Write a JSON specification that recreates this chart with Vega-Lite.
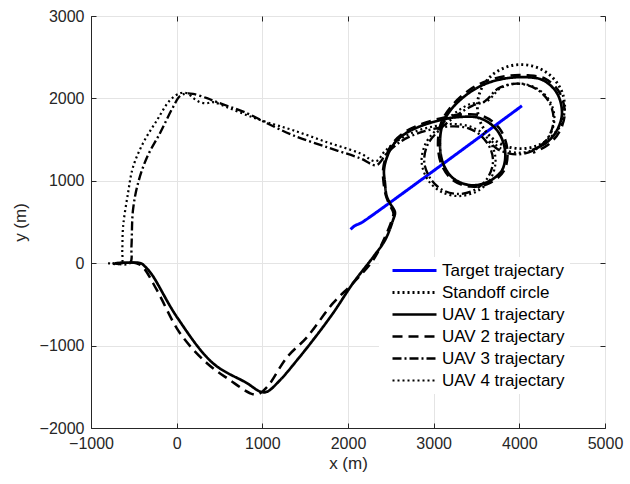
{
"$schema": "https://vega.github.io/schema/vega-lite/v6.json",
"autosize": "none",
"width": 514, "height": 412,
"padding": {"left": 91, "top": 16, "right": 25, "bottom": 56},
"background": "white",
"config": {
  "font": "Liberation Sans",
  "view": {"stroke": "#262626", "strokeWidth": 1},
  "axis": {"labelFont": "Liberation Sans", "labelFontSize": 16, "labelColor": "#262626", "labelFlush": false, "labelOverlap": false, "titleFont": "Liberation Sans", "titleFontSize": 17, "titleFontWeight": "normal", "titleColor": "#262626", "domainColor": "#262626", "tickColor": "#262626", "tickSize": -5, "gridColor": "#e4e4e4", "gridWidth": 1, "domainWidth": 1}
},
"data": {"values": [
{"s":"T","o":1,"x":2030,"y":410},{"s":"T","o":2,"x":2080,"y":455},{"s":"T","o":3,"x":2130,"y":478},{"s":"T","o":4,"x":2170,"y":500},{"s":"T","o":5,"x":4030,"y":1910},
{"s":"S","o":1,"x":4530,"y":1900},{"s":"S","o":2,"x":4513,"y":2032},{"s":"S","o":3,"x":4462,"y":2155},{"s":"S","o":4,"x":4381,"y":2261},{"s":"S","o":5,"x":4275,"y":2342},{"s":"S","o":6,"x":4152,"y":2393},{"s":"S","o":7,"x":4020,"y":2410},{"s":"S","o":8,"x":3888,"y":2393},{"s":"S","o":9,"x":3765,"y":2342},{"s":"S","o":10,"x":3659,"y":2261},{"s":"S","o":11,"x":3578,"y":2155},{"s":"S","o":12,"x":3527,"y":2032},{"s":"S","o":13,"x":3510,"y":1900},{"s":"S","o":14,"x":3527,"y":1768},{"s":"S","o":15,"x":3578,"y":1645},{"s":"S","o":16,"x":3659,"y":1539},{"s":"S","o":17,"x":3765,"y":1458},{"s":"S","o":18,"x":3888,"y":1407},{"s":"S","o":19,"x":4020,"y":1390},{"s":"S","o":20,"x":4152,"y":1407},{"s":"S","o":21,"x":4275,"y":1458},{"s":"S","o":22,"x":4381,"y":1539},{"s":"S","o":23,"x":4462,"y":1645},{"s":"S","o":24,"x":4513,"y":1768},{"s":"S","o":25,"x":4530,"y":1900},
{"s":"U1","o":1,"x":-700,"y":0},{"s":"U1","o":2,"x":-420,"y":0},{"s":"U1","o":3,"x":-370,"y":-40},{"s":"U1","o":4,"x":-288,"y":-140},{"s":"U1","o":5,"x":4,"y":-655},{"s":"U1","o":6,"x":424,"y":-1214},{"s":"U1","o":7,"x":821,"y":-1456},{"s":"U1","o":8,"x":980,"y":-1560},{"s":"U1","o":9,"x":1054,"y":-1560},{"s":"U1","o":10,"x":1206,"y":-1420},{"s":"U1","o":11,"x":1405,"y":-1177},{"s":"U1","o":12,"x":1591,"y":-934},{"s":"U1","o":13,"x":1825,"y":-607},{"s":"U1","o":14,"x":2058,"y":-243},{"s":"U1","o":15,"x":2292,"y":73},{"s":"U1","o":16,"x":2432,"y":279},{"s":"U1","o":17,"x":2525,"y":522},{"s":"U1","o":18,"x":2548,"y":619},{"s":"U1","o":19,"x":2490,"y":728},{"s":"U1","o":20,"x":2450,"y":820},{"s":"U1","o":21,"x":2432,"y":971},{"s":"U1","o":22,"x":2420,"y":1129},{"s":"U1","o":23,"x":2455,"y":1286},{"s":"U1","o":24,"x":2525,"y":1432},{"s":"U1","o":25,"x":2650,"y":1560},{"s":"U1","o":26,"x":2840,"y":1660},{"s":"U1","o":27,"x":3074,"y":1735},{"s":"U1","o":28,"x":3272,"y":1772},{"s":"U1","o":29,"x":3541,"y":1760},{"s":"U1","o":30,"x":3739,"y":1614},{"s":"U1","o":31,"x":3833,"y":1371},{"s":"U1","o":32,"x":3798,"y":1129},{"s":"U1","o":33,"x":3623,"y":983},{"s":"U1","o":34,"x":3424,"y":947},{"s":"U1","o":35,"x":3226,"y":1032},{"s":"U1","o":36,"x":3109,"y":1214},{"s":"U1","o":37,"x":3074,"y":1456},{"s":"U1","o":38,"x":3109,"y":1699},{"s":"U1","o":39,"x":3226,"y":1893},{"s":"U1","o":40,"x":3424,"y":2075},{"s":"U1","o":41,"x":3623,"y":2184},{"s":"U1","o":42,"x":3856,"y":2245},{"s":"U1","o":43,"x":4089,"y":2257},{"s":"U1","o":44,"x":4276,"y":2221},{"s":"U1","o":45,"x":4440,"y":2063},{"s":"U1","o":46,"x":4498,"y":1820},{"s":"U1","o":47,"x":4440,"y":1614},{"s":"U1","o":48,"x":4323,"y":1468},{"s":"U1","o":49,"x":4148,"y":1371},
{"s":"U2","o":1,"x":-720,"y":0},{"s":"U2","o":2,"x":-470,"y":0},{"s":"U2","o":3,"x":-393,"y":-49},{"s":"U2","o":4,"x":-230,"y":-328},{"s":"U2","o":5,"x":39,"y":-850},{"s":"U2","o":6,"x":354,"y":-1214},{"s":"U2","o":7,"x":623,"y":-1420},{"s":"U2","o":8,"x":856,"y":-1578},{"s":"U2","o":9,"x":938,"y":-1595},{"s":"U2","o":10,"x":1054,"y":-1505},{"s":"U2","o":11,"x":1288,"y":-1141},{"s":"U2","o":12,"x":1521,"y":-898},{"s":"U2","o":13,"x":1825,"y":-485},{"s":"U2","o":14,"x":2058,"y":-243},{"s":"U2","o":15,"x":2292,"y":36},{"s":"U2","o":16,"x":2420,"y":290},{"s":"U2","o":17,"x":2510,"y":520},{"s":"U2","o":18,"x":2530,"y":610},{"s":"U2","o":19,"x":2475,"y":730},{"s":"U2","o":20,"x":2440,"y":830},{"s":"U2","o":21,"x":2415,"y":980},{"s":"U2","o":22,"x":2410,"y":1140},{"s":"U2","o":23,"x":2445,"y":1300},{"s":"U2","o":24,"x":2520,"y":1455},{"s":"U2","o":25,"x":2660,"y":1590},{"s":"U2","o":26,"x":2860,"y":1690},{"s":"U2","o":27,"x":3090,"y":1760},{"s":"U2","o":28,"x":3290,"y":1800},{"s":"U2","o":29,"x":3560,"y":1790},{"s":"U2","o":30,"x":3765,"y":1640},{"s":"U2","o":31,"x":3860,"y":1380},{"s":"U2","o":32,"x":3820,"y":1120},{"s":"U2","o":33,"x":3640,"y":965},{"s":"U2","o":34,"x":3430,"y":930},{"s":"U2","o":35,"x":3220,"y":1010},{"s":"U2","o":36,"x":3090,"y":1200},{"s":"U2","o":37,"x":3050,"y":1450},{"s":"U2","o":38,"x":3090,"y":1710},{"s":"U2","o":39,"x":3215,"y":1915},{"s":"U2","o":40,"x":3420,"y":2105},{"s":"U2","o":41,"x":3630,"y":2215},{"s":"U2","o":42,"x":3860,"y":2275},{"s":"U2","o":43,"x":4100,"y":2280},{"s":"U2","o":44,"x":4300,"y":2240},{"s":"U2","o":45,"x":4470,"y":2070},{"s":"U2","o":46,"x":4530,"y":1820},{"s":"U2","o":47,"x":4470,"y":1600},{"s":"U2","o":48,"x":4340,"y":1440},{"s":"U2","o":49,"x":4160,"y":1340},
{"s":"U3","o":1,"x":-750,"y":0},{"s":"U3","o":2,"x":-545,"y":0},{"s":"U3","o":3,"x":-528,"y":200},{"s":"U3","o":4,"x":-510,"y":643},{"s":"U3","o":5,"x":-451,"y":971},{"s":"U3","o":6,"x":-346,"y":1286},{"s":"U3","o":7,"x":-195,"y":1578},{"s":"U3","o":8,"x":-43,"y":1893},{"s":"U3","o":9,"x":40,"y":2030},{"s":"U3","o":10,"x":120,"y":2060},{"s":"U3","o":11,"x":191,"y":2055},{"s":"U3","o":12,"x":354,"y":2002},{"s":"U3","o":13,"x":471,"y":1954},{"s":"U3","o":14,"x":821,"y":1820},{"s":"U3","o":15,"x":1054,"y":1699},{"s":"U3","o":16,"x":1358,"y":1553},{"s":"U3","o":17,"x":1755,"y":1408},{"s":"U3","o":18,"x":2140,"y":1274},{"s":"U3","o":19,"x":2330,"y":1190},{"s":"U3","o":20,"x":2450,"y":1330},{"s":"U3","o":21,"x":2620,"y":1480},{"s":"U3","o":22,"x":2800,"y":1570},{"s":"U3","o":23,"x":3000,"y":1630},{"s":"U3","o":24,"x":3200,"y":1660},{"s":"U3","o":25,"x":3400,"y":1640},{"s":"U3","o":26,"x":3560,"y":1540},{"s":"U3","o":27,"x":3670,"y":1370},{"s":"U3","o":28,"x":3690,"y":1200},{"s":"U3","o":29,"x":3620,"y":1020},{"s":"U3","o":30,"x":3480,"y":890},{"s":"U3","o":31,"x":3290,"y":840},{"s":"U3","o":32,"x":3100,"y":890},{"s":"U3","o":33,"x":2960,"y":1030},{"s":"U3","o":34,"x":2890,"y":1230},{"s":"U3","o":35,"x":2930,"y":1440},{"s":"U3","o":36,"x":3060,"y":1610},{"s":"U3","o":37,"x":3250,"y":1780},{"s":"U3","o":38,"x":3450,"y":1910},{"s":"U3","o":39,"x":3598,"y":1965},{"s":"U3","o":40,"x":3755,"y":2122},{"s":"U3","o":41,"x":3970,"y":2180},{"s":"U3","o":42,"x":4185,"y":2122},{"s":"U3","o":43,"x":4342,"y":1965},{"s":"U3","o":44,"x":4400,"y":1750},{"s":"U3","o":45,"x":4342,"y":1535},{"s":"U3","o":46,"x":4185,"y":1378},{"s":"U3","o":47,"x":3970,"y":1320},{"s":"U3","o":48,"x":3755,"y":1378},{"s":"U3","o":49,"x":3640,"y":1480},
{"s":"U4","o":1,"x":-800,"y":0},{"s":"U4","o":2,"x":-645,"y":0},{"s":"U4","o":3,"x":-635,"y":150},{"s":"U4","o":4,"x":-626,"y":437},{"s":"U4","o":5,"x":-568,"y":850},{"s":"U4","o":6,"x":-510,"y":1165},{"s":"U4","o":7,"x":-393,"y":1456},{"s":"U4","o":8,"x":-230,"y":1735},{"s":"U4","o":9,"x":-78,"y":1978},{"s":"U4","o":10,"x":39,"y":2063},{"s":"U4","o":11,"x":121,"y":2063},{"s":"U4","o":12,"x":200,"y":2000},{"s":"U4","o":13,"x":272,"y":1954},{"s":"U4","o":14,"x":354,"y":1942},{"s":"U4","o":15,"x":424,"y":1954},{"s":"U4","o":16,"x":588,"y":1893},{"s":"U4","o":17,"x":821,"y":1796},{"s":"U4","o":18,"x":1054,"y":1711},{"s":"U4","o":19,"x":1358,"y":1614},{"s":"U4","o":20,"x":1755,"y":1468},{"s":"U4","o":21,"x":2140,"y":1335},{"s":"U4","o":22,"x":2327,"y":1238},{"s":"U4","o":23,"x":2430,"y":1360},{"s":"U4","o":24,"x":2600,"y":1500},{"s":"U4","o":25,"x":2790,"y":1600},{"s":"U4","o":26,"x":3000,"y":1660},{"s":"U4","o":27,"x":3210,"y":1690},{"s":"U4","o":28,"x":3420,"y":1660},{"s":"U4","o":29,"x":3590,"y":1560},{"s":"U4","o":30,"x":3700,"y":1380},{"s":"U4","o":31,"x":3720,"y":1200},{"s":"U4","o":32,"x":3650,"y":1000},{"s":"U4","o":33,"x":3500,"y":870},{"s":"U4","o":34,"x":3300,"y":815},{"s":"U4","o":35,"x":3100,"y":860},{"s":"U4","o":36,"x":2940,"y":1000},{"s":"U4","o":37,"x":2860,"y":1220},{"s":"U4","o":38,"x":2900,"y":1440},{"s":"U4","o":39,"x":3030,"y":1620},{"s":"U4","o":40,"x":3220,"y":1800},{"s":"U4","o":41,"x":3420,"y":1930},{"s":"U4","o":42,"x":3626,"y":1970},{"s":"U4","o":43,"x":3780,"y":2124},{"s":"U4","o":44,"x":3990,"y":2180},{"s":"U4","o":45,"x":4200,"y":2124},{"s":"U4","o":46,"x":4354,"y":1970},{"s":"U4","o":47,"x":4410,"y":1760},{"s":"U4","o":48,"x":4354,"y":1550},{"s":"U4","o":49,"x":4200,"y":1396},{"s":"U4","o":50,"x":3990,"y":1340},{"s":"U4","o":51,"x":3780,"y":1396},{"s":"U4","o":52,"x":3660,"y":1500}
]},
"layer": [
 {
  "mark": {"type": "line", "interpolate": "catmull-rom", "strokeCap": "butt", "strokeJoin": "round"},
  "encoding": {
   "x": {"field": "x", "type": "quantitative", "scale": {"domain": [-1000, 5000], "nice": false, "zero": false},
         "axis": {"orient": "bottom", "values": [-1000, 0, 1000, 2000, 3000, 4000, 5000], "format": "d", "title": "x (m)", "labelPadding": 12, "titleY": 35, "titleBaseline": "middle", "grid": true}},
   "y": {"field": "y", "type": "quantitative", "scale": {"domain": [-2000, 3000], "nice": false, "zero": false},
         "axis": {"orient": "left", "values": [-2000, -1000, 0, 1000, 2000, 3000], "format": "d", "title": "y (m)", "labelPadding": 12, "titleX": -71, "titleY": 206, "titleAngle": -90, "titleAlign": "center", "titleBaseline": "middle", "grid": true}},
   "color": {"field": "s", "type": "nominal",
     "scale": {"domain": ["T", "S", "U1", "U2", "U3", "U4"], "range": ["#0000ff", "#000000", "#000000", "#000000", "#000000", "#000000"]},
     "legend": {"orient": "none", "legendX": 288, "legendY": 241, "title": null, "symbolType": "M0,0H8", "symbolSize": 121, "labelFontSize": 17, "labelFont": "Liberation Sans", "labelColor": "#000000", "labelOffset": 41, "fillColor": "white", "padding": 5, "rowPadding": 4,
       "labelExpr": "{'T':'Target trajectary','S':'Standoff circle','U1':'UAV 1 trajectary','U2':'UAV 2 trajectary','U3':'UAV 3 trajectary','U4':'UAV 4 trajectary'}[datum.label]"}},
   "strokeDash": {"field": "s", "type": "nominal",
     "scale": {"domain": ["T", "S", "U1", "U2", "U3", "U4"], "range": [[1, 0], [2, 3], [1, 0], [10, 6], [9, 3, 2, 3], [2, 3]]}},
   "strokeWidth": {"field": "s", "type": "nominal",
     "scale": {"domain": ["T", "S", "U1", "U2", "U3", "U4"], "range": [3, 2.2, 2.5, 2.5, 2.5, 2.5]}},
   "order": {"field": "o", "type": "quantitative"}
  }
 },
 {
  "mark": {"type": "point", "opacity": 0},
  "encoding": {
   "x": {"field": "x", "type": "quantitative", "axis": {"orient": "top", "values": [-1000, 0, 1000, 2000, 3000, 4000, 5000], "labels": false, "title": null, "grid": false, "domain": false}},
   "y": {"field": "y", "type": "quantitative", "axis": {"orient": "right", "values": [-2000, -1000, 0, 1000, 2000, 3000], "labels": false, "title": null, "grid": false, "domain": false}}
  }
 }
],
"resolve": {"axis": {"x": "independent", "y": "independent"}}
}
